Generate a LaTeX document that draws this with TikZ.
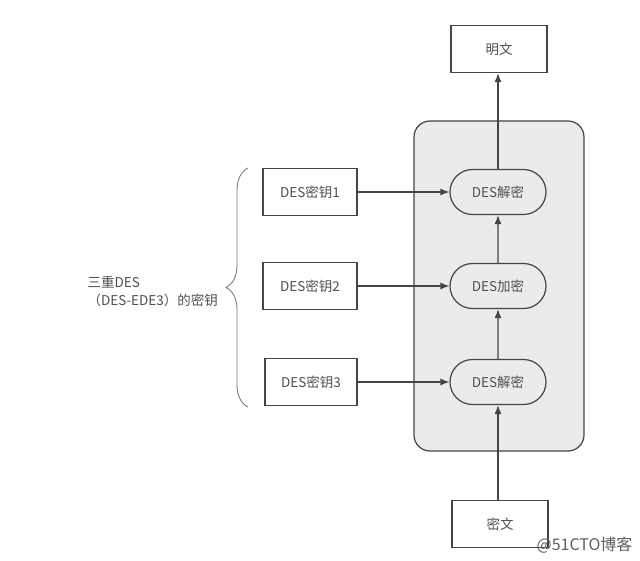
\documentclass[tikz,border=0pt]{standalone}
\usepackage{fontspec}
\setmainfont{Noto Sans CJK SC}
\usetikzlibrary{arrows.meta,decorations.pathreplacing,shapes.misc}
\definecolor{ln}{HTML}{454545}
\definecolor{tx}{HTML}{505050}
\definecolor{pane}{HTML}{EBEBEB}
\begin{document}
\begin{tikzpicture}[x=1pt,y=-1pt,
  every node/.style={text=tx,font=\fontsize{13.5}{15}\selectfont},
  sqbox/.style={draw=ln,line width=1.2pt,fill=white,minimum width=96pt,minimum height=47pt,inner sep=0pt},
  opbox/.style={draw=ln,line width=1.2pt,fill=pane,rounded rectangle,minimum width=96pt,minimum height=45pt,inner sep=0pt},
  conn/.style={draw=ln,line width=1.2pt,-{Latex[length=9pt,width=7pt]}}]
\useasboundingbox (0,0) rectangle (640,561);
\fill[white] (0,0) rectangle (640,561);
\node[draw=ln,line width=1.2pt,fill=pane,rounded corners=16pt,minimum width=170pt,minimum height=330pt,inner sep=0pt] (pane) at (499,286) {};
\node[sqbox] (pt) at (499,49) {明文};
\node[opbox] (d1) at (498,192) {DES解密};
\node[opbox] (e) at (498,286) {DES加密};
\node[opbox] (d2) at (498,382) {DES解密};
\node[sqbox] (ct) at (500,524) {密文};
\node[sqbox,minimum width=94pt] (k1) at (310,192) {DES密钥1};
\node[sqbox,minimum width=94pt] (k2) at (310,286) {DES密钥2};
\node[sqbox,minimum width=92pt] (k3) at (311,382) {DES密钥3};
\draw[conn] (ct.north -| d2.south) -- (d2.south);
\draw[conn] (d2) -- (e);
\draw[conn] (e) -- (d1);
\draw[conn] (d1.north) -- (d1.north |- pt.south);
\draw[conn] (k1) -- (d1);
\draw[conn] (k2) -- (e);
\draw[conn] (k3) -- (d2);
\coordinate (bt) at (248,407);
\coordinate (bb) at (248,168);
\draw[ln!70,line width=0.9pt,decorate,decoration={brace,amplitude=22pt}] (bt) -- (bb);
\node[anchor=west,align=left,font=\fontsize{13.5}{18}\selectfont] (lab) at (84,292) {三重DES\\（DES-EDE3）的密钥};
\node[anchor=east,text=gray!75!black,font=\fontsize{16}{18}\selectfont,draw=none] (wm) at (636,545) {@51CTO博客};
\end{tikzpicture}
\end{document}
